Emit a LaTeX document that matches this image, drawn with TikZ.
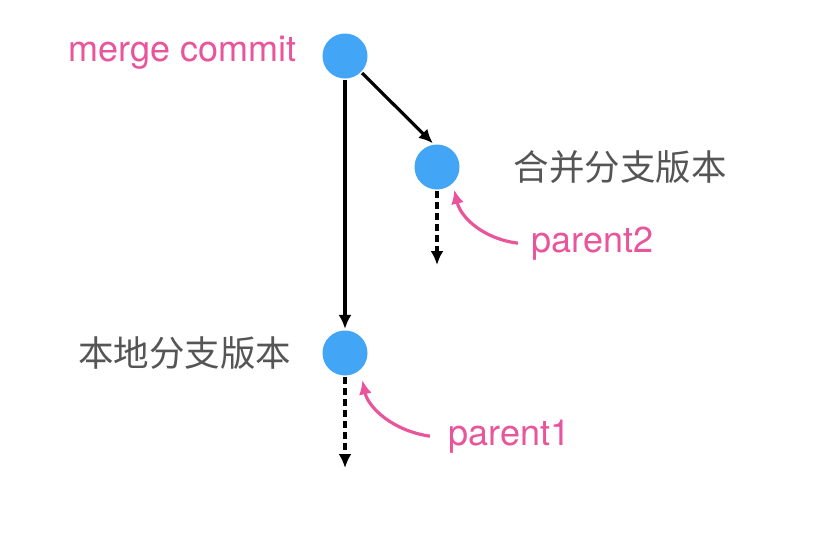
\documentclass[tikz,border=0pt]{standalone}
\usepackage{fontspec}
\setmainfont{TeX Gyre Heros}
\newfontfamily\cjk{Noto Sans CJK SC}
\usetikzlibrary{arrows.meta, positioning}
\definecolor{commitblue}{RGB}{66,165,245}
\definecolor{notepink}{RGB}{233,85,155}
\definecolor{labelgray}{RGB}{85,85,85}

\begin{document}
\begin{tikzpicture}[
    x=1pt, y=-1pt,
    -{Latex[length=14pt, width=13pt]},
    line width=3.2pt,
    node distance=23pt,
    commit/.style={circle, fill=commitblue, minimum size=45pt, inner sep=0pt, on grid},
    note/.style={text=notepink, inner sep=0pt, font=\fontsize{36}{40}\selectfont},
    branch/.style={text=labelgray, inner sep=0pt, font=\fontsize{35.5}{40}\selectfont\cjk},
    pointer/.style={draw=notepink, -{Latex[length=14pt, width=13pt]}},
    ahead/.style={dash pattern=on 7pt off 4pt},
]

    \useasboundingbox (0,0) rectangle (826,546);

    \node[commit]                                   (M)  at (345,56) {};
    \node[commit, below=297pt of M]                 (P1) {};
    \node[commit, below right=111pt and 92pt of M]  (P2) {};

    \node[note, left=of M, yshift=3pt]              (MC) {merge commit};
    \node[branch, right=51pt of P2]                 (BR) {合并分支版本};
    \node[branch, left=28pt of P1]                  (LB) {本地分支版本};
    \node[note, anchor=base west]                   (N2) at (530,252) {parent2};
    \node[note, anchor=base west]                   (N1) at (447,445) {parent1};

    \coordinate (E2) at (437,265);
    \coordinate (E1) at (345,468);

    \path
        (M)                    edge                               (P1)
        (M.-45)                edge                               (P2.100)
        (P2)                   edge [ahead]                       (E2)
        (P1)                   edge [ahead]                       (E1)
        ([xshift=-12pt]N2.west) edge [pointer, bend left=35, shorten >=5pt]  (P2.-48)
        ([xshift=-17pt]N1.west) edge [pointer, bend left=35, shorten >=9pt]  (P1.-50)
    ;
\end{tikzpicture}
\end{document}
